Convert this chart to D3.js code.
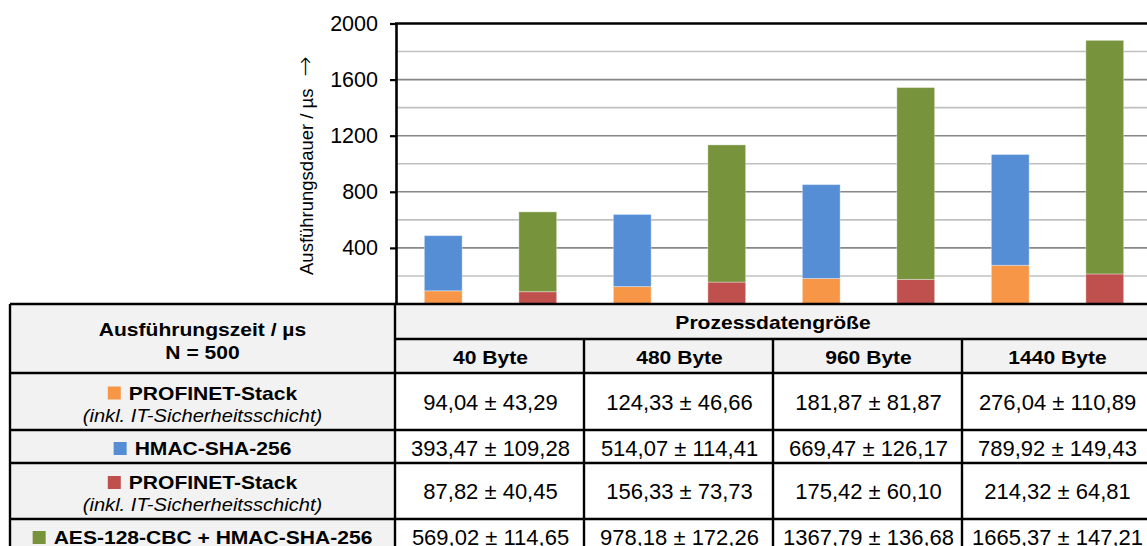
<!DOCTYPE html>
<html>
<head>
<meta charset="utf-8">
<script src="https://cdn.jsdelivr.net/npm/d3@7"></script>
<style>
  html, body { margin: 0; padding: 0; background: #fff; }
  svg { display: block; font-family: Arial, "Liberation Sans", sans-serif; }
</style>
</head>
<body>
<svg id="chart" width="1147" height="546"></svg>
<script>
// Process data sizes (columns / bar groups)
const sizes = ["40 Byte", "480 Byte", "960 Byte", "1440 Byte"];

// Execution times in µs, mean and standard deviation, N = 500
const stackHmacMean = [94.04, 124.33, 181.87, 276.04];
const stackHmacSd   = [43.29, 46.66, 81.87, 110.89];
const hmacMean      = [393.47, 514.07, 669.47, 789.92];
const hmacSd        = [109.28, 114.41, 126.17, 149.43];
const stackAesMean  = [87.82, 156.33, 175.42, 214.32];
const stackAesSd    = [40.45, 73.73, 60.10, 64.81];
const aesMean       = [569.02, 978.18, 1367.79, 1665.37];
const aesSd         = [114.65, 172.26, 136.68, 147.21];

// Axis ticks and gridlines
const yTicks     = [400, 800, 1200, 1600, 2000];
const gridMajor  = [400, 800, 1200, 1600];
const gridMinor  = [200, 600, 1000, 1400, 1800];

const colors = {
  stackHmac: "#F79646",
  hmac: "#558ED5",
  stackAes: "#C0504D",
  aes: "#77933C"
};

// Table rows, one per series
const rows = [
  { name: "PROFINET-Stack", sub: "(inkl. IT-Sicherheitsschicht)", color: colors.stackHmac, mean: stackHmacMean, sd: stackHmacSd },
  { name: "HMAC-SHA-256", sub: null, color: colors.hmac, mean: hmacMean, sd: hmacSd },
  { name: "PROFINET-Stack", sub: "(inkl. IT-Sicherheitsschicht)", color: colors.stackAes, mean: stackAesMean, sd: stackAesSd },
  { name: "AES-128-CBC + HMAC-SHA-256", sub: null, color: colors.aes, mean: aesMean, sd: aesSd }
];

const W = 1147, H = 546;
const svg = d3.select("#chart");
svg.append("rect").attr("width", W).attr("height", H).attr("fill", "#fff");

// ---------- layout ----------
const tableLeft = 10, colStart = 395, colEnd = 1151;
const plotTop = 23.5, plotBottom = 304;
const rowEdges = [304, 339, 373, 430, 463, 519, 552];

const x0 = d3.scaleBand().domain(sizes).range([colStart + 1, colEnd + 1]).padding(0);
const x1 = d3.scaleBand().domain(["hmac", "aes"]).range([0, x0.bandwidth()])
  .paddingInner(0.6).paddingOuter(0.3);
const y = d3.scaleLinear().domain([0, 2000]).range([plotBottom, plotTop]);

// ---------- gridlines ----------
const grid = svg.append("g");
grid.selectAll("line.minor").data(gridMinor).join("line")
  .attr("x1", colStart + 2).attr("x2", W)
  .attr("y1", d => y(d)).attr("y2", d => y(d))
  .attr("stroke", "#C0C0C0").attr("stroke-width", 1.6);
grid.selectAll("line.major").data(gridMajor).join("line")
  .attr("x1", colStart + 2).attr("x2", W)
  .attr("y1", d => y(d)).attr("y2", d => y(d))
  .attr("stroke", "#878787").attr("stroke-width", 1.6);

// ---------- stacked bars ----------
const barData = [];
sizes.forEach((s, i) => {
  barData.push({ size: s, variant: "hmac", lo: 0, hi: stackHmacMean[i], color: colors.stackHmac });
  barData.push({ size: s, variant: "hmac", lo: stackHmacMean[i], hi: stackHmacMean[i] + hmacMean[i], color: colors.hmac });
  barData.push({ size: s, variant: "aes", lo: 0, hi: stackAesMean[i], color: colors.stackAes });
  barData.push({ size: s, variant: "aes", lo: stackAesMean[i], hi: stackAesMean[i] + aesMean[i], color: colors.aes });
});
svg.append("g").selectAll("rect").data(barData).join("rect")
  .attr("x", d => x0(d.size) + x1(d.variant))
  .attr("width", x1.bandwidth())
  .attr("y", d => y(d.hi))
  .attr("height", d => y(d.lo) - y(d.hi))
  .attr("fill", d => d.color)
  .attr("stroke", "#fff").attr("stroke-opacity", 0.35).attr("stroke-width", 1);

// ---------- y axis ----------
const yAxis = svg.append("g")
  .attr("transform", `translate(${colStart + 1},0)`)
  .call(d3.axisLeft(y).tickValues(yTicks).tickSize(6).tickSizeOuter(0).tickPadding(12).tickFormat(d3.format("d")));
yAxis.select(".domain").attr("stroke", "#000").attr("stroke-width", 2.6);
yAxis.selectAll(".tick line").attr("stroke", "#000").attr("stroke-width", 2.2);
yAxis.selectAll(".tick text").attr("font-size", 21.5).attr("fill", "#000")
  .attr("font-family", "Arial, 'Liberation Sans', sans-serif");

// plot frame top line
svg.append("line")
  .attr("x1", colStart).attr("x2", W)
  .attr("y1", y(2000)).attr("y2", y(2000))
  .attr("stroke", "#000").attr("stroke-width", 2.6);

// y axis title with arrow
const yTitle = svg.append("text")
  .attr("transform", `translate(313,275) rotate(-90)`)
  .attr("font-size", 18.5).attr("fill", "#000");
yTitle.append("tspan").text("Ausführungsdauer / µs");
yTitle.append("tspan").attr("dx", 12).attr("font-family", "'DejaVu Sans', sans-serif")
  .attr("font-size", 24).attr("font-weight", "200").text("→");

// ---------- table ----------
const table = svg.append("g");
// header background
table.append("rect").attr("x", tableLeft).attr("y", rowEdges[0])
  .attr("width", colEnd - tableLeft).attr("height", rowEdges[2] - rowEdges[0]).attr("fill", "#F2F2F2");
// label column background
table.append("rect").attr("x", tableLeft).attr("y", rowEdges[2])
  .attr("width", colStart - tableLeft).attr("height", rowEdges[6] - rowEdges[2]).attr("fill", "#F2F2F2");

const fmt = d3.formatLocale({ decimal: ",", thousands: ".", grouping: [3], currency: ["", " €"] }).format(".2f");
const boldScale = 1.17;

function boldText(x, yPos, txt, anchor = "middle") {
  return table.append("text")
    .attr("transform", `translate(${x},${yPos}) scale(${boldScale},1)`)
    .attr("text-anchor", anchor)
    .attr("font-size", 18).attr("font-weight", "bold").attr("fill", "#000")
    .text(txt);
}

const leftCx = (tableLeft + colStart) / 2;
boldText(leftCx, 336, "Ausführungszeit / µs");
boldText(leftCx, 359, "N = 500");
boldText((colStart + colEnd) / 2, 329, "Prozessdatengröße");
sizes.forEach(s => boldText(x0(s) + x0.bandwidth() / 2, 364, s));

rows.forEach((r, i) => {
  const top = rowEdges[i + 2], bottom = rowEdges[i + 3];
  const cy = (top + bottom) / 2;
  const nameY = r.sub ? cy - 2 : cy + 8.5;

  // series marker + name, centred as one unit
  const t = boldText(0, nameY, r.name, "start");
  const w = t.node().getComputedTextLength() * boldScale;
  const sq = 13, gap = 8;
  const start = leftCx - (sq + gap + w) / 2;
  t.attr("transform", `translate(${start + sq + gap},${nameY}) scale(${boldScale},1)`);
  table.append("rect").attr("x", start).attr("y", nameY - 13)
    .attr("width", sq).attr("height", sq).attr("fill", r.color);

  if (r.sub) {
    table.append("text")
      .attr("transform", `translate(${leftCx},${cy + 20}) scale(1.15,1)`)
      .attr("text-anchor", "middle").attr("font-size", 17.5).attr("font-style", "italic")
      .attr("fill", "#000").text(r.sub);
  }

  sizes.forEach((s, j) => {
    table.append("text")
      .attr("x", x0(s) + x0.bandwidth() / 2)
      .attr("y", r.sub ? cy + 8 : cy + 9)
      .attr("text-anchor", "middle").attr("font-size", 22).attr("fill", "#000")
      .text(`${fmt(r.mean[j])} ± ${fmt(r.sd[j])}`);
  });
});

// table rules
const lines = table.append("g").attr("stroke", "#000").attr("stroke-width", 2.4);
[rowEdges[0], rowEdges[2], rowEdges[3], rowEdges[4], rowEdges[5], rowEdges[6]].forEach(v =>
  lines.append("line").attr("x1", tableLeft).attr("x2", colEnd).attr("y1", v).attr("y2", v));
lines.append("line").attr("x1", colStart).attr("x2", colEnd).attr("y1", rowEdges[1]).attr("y2", rowEdges[1]);
[tableLeft, colStart, colEnd].forEach(v =>
  lines.append("line").attr("x1", v).attr("x2", v).attr("y1", rowEdges[0]).attr("y2", rowEdges[6]));
sizes.slice(1).forEach(s =>
  lines.append("line").attr("x1", x0(s) - 1).attr("x2", x0(s) - 1).attr("y1", rowEdges[1]).attr("y2", rowEdges[6]));
</script>
</body>
</html>
